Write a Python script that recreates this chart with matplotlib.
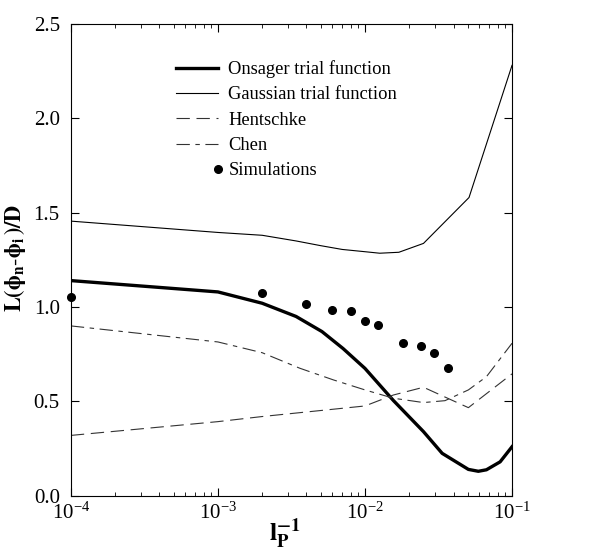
import matplotlib
matplotlib.use("Agg")
import matplotlib.pyplot as plt
from matplotlib.legend_handler import HandlerLine2D
from matplotlib.ticker import LogLocator, MultipleLocator, FormatStrFormatter, NullFormatter

plt.rcParams["font.family"] = ["Liberation Serif", "DejaVu Serif"]
plt.rcParams["mathtext.fontset"] = "stix"

# inverse persistence length 1/l_P
onsager_x = [1e-4, 1e-3, 2e-3, 3.4e-3, 5.1e-3, 7.1e-3, 1e-2, 1.56e-2, 2.5e-2,
             3.35e-2, 5.05e-2, 5.9e-2, 6.7e-2, 8.3e-2, 1e-1]
onsager_y = [1.14, 1.08, 1.02, 0.95, 0.87, 0.78, 0.675, 0.505, 0.34,
             0.225, 0.14, 0.13, 0.138, 0.18, 0.26]

gauss_x = [1e-4, 1e-3, 2e-3, 3.4e-3, 5e-3, 7e-3, 1e-2, 1.26e-2, 1.7e-2,
           2.5e-2, 5.1e-2, 1e-1]
gauss_y = [1.455, 1.395, 1.38, 1.35, 1.325, 1.305, 1.293, 1.285, 1.29,
           1.337, 1.58, 2.28]

hent_x = [1e-4, 1e-3, 2e-3, 1e-2, 1.56e-2, 2.5e-2, 5.05e-2, 1e-1]
hent_y = [0.32, 0.393, 0.42, 0.476, 0.534, 0.575, 0.467, 0.646]

chen_x = [1e-4, 1e-3, 2e-3, 3.6e-3, 6.1e-3, 1e-2, 1.56e-2, 2.5e-2, 3.5e-2,
          5.05e-2, 6.7e-2, 1e-1]
chen_y = [0.90, 0.815, 0.758, 0.676, 0.614, 0.561, 0.517, 0.494, 0.504,
          0.561, 0.631, 0.808]

sim_x = [1e-4, 2e-3, 4e-3, 6e-3, 8e-3, 1e-2, 1.22e-2, 1.8e-2, 2.4e-2,
         2.95e-2, 3.65e-2]
sim_y = [1.055, 1.075, 1.016, 0.984, 0.979, 0.926, 0.905, 0.811, 0.794,
         0.755, 0.679]


class MarkerAtEnd(HandlerLine2D):
    """Legend handler that puts the single marker at the right end of the handle."""
    def create_artists(self, *args, **kwargs):
        arts = super().create_artists(*args, **kwargs)
        for a in arts:
            a.set_markevery([len(a.get_xdata()) - 1])
        return arts


fig = plt.figure(figsize=(6.11, 5.54), dpi=100)
ax = fig.add_axes([0.116, 0.105, 0.722, 0.852])

ax.plot(onsager_x, onsager_y, color="black", lw=2.4, label="Onsager trial function")
ax.plot(gauss_x, gauss_y, color="black", lw=0.8, label="Gaussian trial function")
ax.plot(hent_x, hent_y, color="#333333", lw=0.8, ls=(0, (12, 6)), label="Hentschke")
ax.plot(chen_x, chen_y, color="#333333", lw=0.8, ls=(0, (12, 5, 4, 5)), label="Chen")
sims, = ax.plot(sim_x, sim_y, ls="none", marker="o", ms=5.5, color="black",
                clip_on=False, label="Simulations")

ax.set_xscale("log")
ax.set_xlim(1e-4, 1e-1)
ax.set_ylim(0, 2.5)
ax.yaxis.set_major_locator(MultipleLocator(0.5))
ax.yaxis.set_major_formatter(FormatStrFormatter("%.1f"))
ax.xaxis.set_major_locator(LogLocator(base=10, numticks=10))
ax.xaxis.set_minor_locator(LogLocator(base=10, subs=range(2, 10), numticks=20))
ax.xaxis.set_minor_formatter(NullFormatter())

ax.tick_params(which="both", direction="in", top=True, right=True, labelsize=15)
ax.tick_params(which="major", length=6, width=0.8)
ax.tick_params(which="minor", length=3, width=0.6)
ax.tick_params(axis="x", pad=5)
ax.tick_params(axis="y", pad=8)

ax.set_xlabel(r"$\mathbf{l_P^{-1}}$", fontsize=19)
ax.xaxis.set_label_coords(0.485, -0.042)
ax.set_ylabel(r"$\mathbf{L(\phi_n\text{-}\phi_i\,)/D}$", fontsize=16)
ax.yaxis.set_label_coords(-0.097, 0.505)

ax.legend(loc="upper left", bbox_to_anchor=(0.2, 0.958), frameon=False,
          fontsize=13.3, handlelength=2.3, handletextpad=0.55, labelspacing=0.45,
          numpoints=1, handler_map={sims: MarkerAtEnd()})

fig.savefig("out.png", dpi=100)
